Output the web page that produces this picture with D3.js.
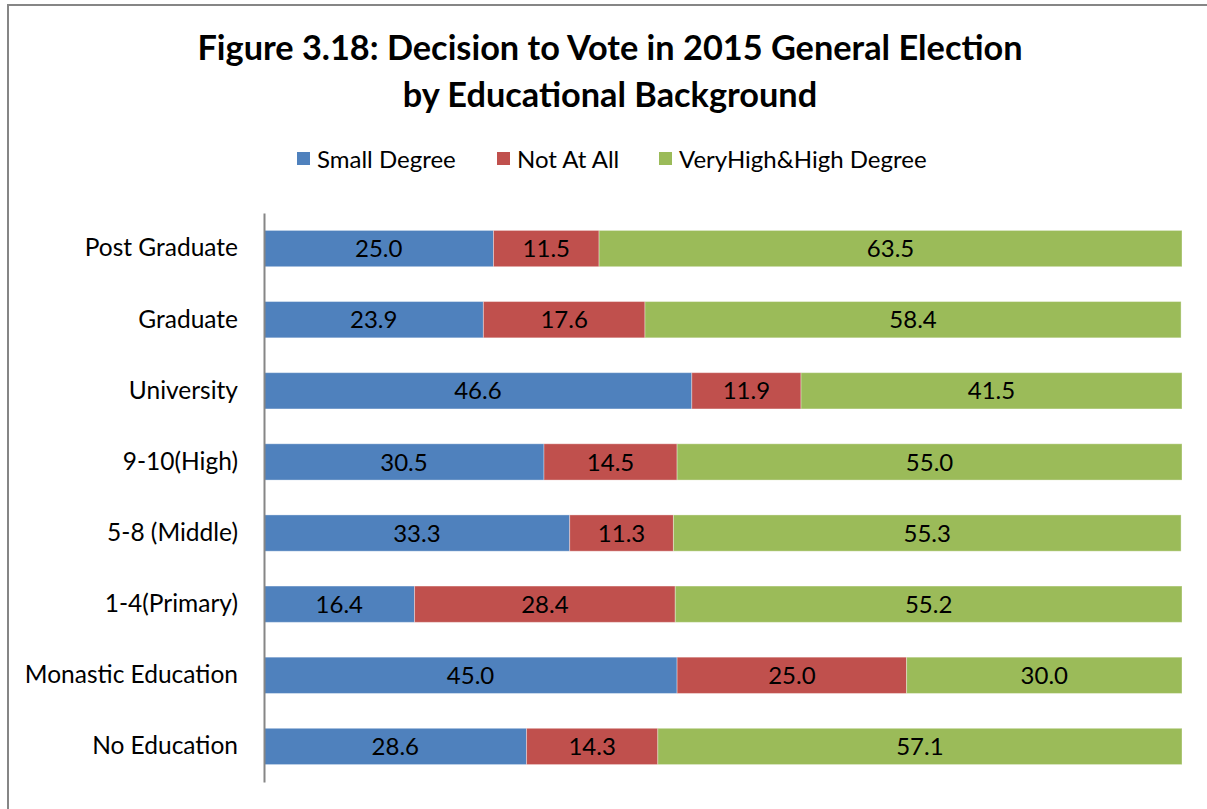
<!DOCTYPE html>
<html><head><meta charset="utf-8">
<script src="https://cdn.jsdelivr.net/npm/d3@7/dist/d3.min.js"></script>
<style>body{margin:0;background:#fff}svg{display:block}text{font-family:Lato,"Open Sans",sans-serif}</style>
</head><body><svg id="c" width="1207" height="809"></svg>
<script>
const categories = ["Post Graduate","Graduate","University","9-10(High)","5-8 (Middle)","1-4(Primary)","Monastic Education","No Education"];
const seriesNames = ["Small Degree","Not At All","VeryHigh&High Degree"];
const smallDegree = [25.0,23.9,46.6,30.5,33.3,16.4,45.0,28.6];
const notAtAll = [11.5,17.6,11.9,14.5,11.3,28.4,25.0,14.3];
const veryHigh = [63.5,58.4,41.5,55.0,55.3,55.2,30.0,57.1];
const colors = ["#4F81BD","#C0504D","#9BBB59"];

const svg = d3.select("#c");
svg.append("rect").attr("x",8).attr("y",5).attr("width",1220).attr("height",820)
  .attr("fill","#fff").attr("stroke","#868686").attr("stroke-width",2);

svg.append("text").attr("x",610).attr("y",60).attr("text-anchor","middle")
  .attr("font-size",34.3).attr("font-weight","bold").text("Figure 3.18: Decision to Vote in 2015 General Election");
svg.append("text").attr("x",610).attr("y",107).attr("text-anchor","middle")
  .attr("font-size",34.3).attr("font-weight","bold").text("by Educational Background");

const data = categories.map((c,i)=>({cat:c, vals:[smallDegree[i],notAtAll[i],veryHigh[i]]}));
const x = d3.scaleLinear().domain([0,100]).range([264,1182]);
const y = d3.scaleBand().domain(categories).range([213,782]).paddingInner(0.49).paddingOuter(0.245);

const g = svg.append("g");
data.forEach(d=>{
  let acc=0;
  d.vals.forEach((v,j)=>{
    const x0=x(acc), x1=x(acc+v);
    g.append("rect").attr("x",x0).attr("y",y(d.cat)).attr("width",x1-x0).attr("height",y.bandwidth())
      .attr("fill",colors[j]).attr("stroke","rgba(255,255,255,0.35)").attr("stroke-width",1);
    g.append("text").attr("x",(x0+x1)/2).attr("y",y(d.cat)+y.bandwidth()/2).attr("dy","0.36em")
      .attr("text-anchor","middle").attr("font-size",24).attr("fill","#000").text(v.toFixed(1));
    acc+=v;
  });
});

const yAxis = d3.axisLeft(y).tickSize(0).tickPadding(26);
const ax = svg.append("g").attr("transform","translate(264,0)").call(yAxis);
ax.select(".domain").attr("stroke","#868686").attr("stroke-width",2);
ax.selectAll("text").attr("font-size",24.5).attr("fill","#000").style("font-family","Lato,'Open Sans',sans-serif");

// legend
const legX = [297, 497, 659];
seriesNames.forEach((n,i)=>{
  svg.append("rect").attr("x",legX[i]).attr("y",152).attr("width",13).attr("height",13).attr("fill",colors[i]);
  svg.append("text").attr("x",legX[i]+20).attr("y",159).attr("dy","0.36em").attr("font-size",24).text(n);
});
</script></body></html>
